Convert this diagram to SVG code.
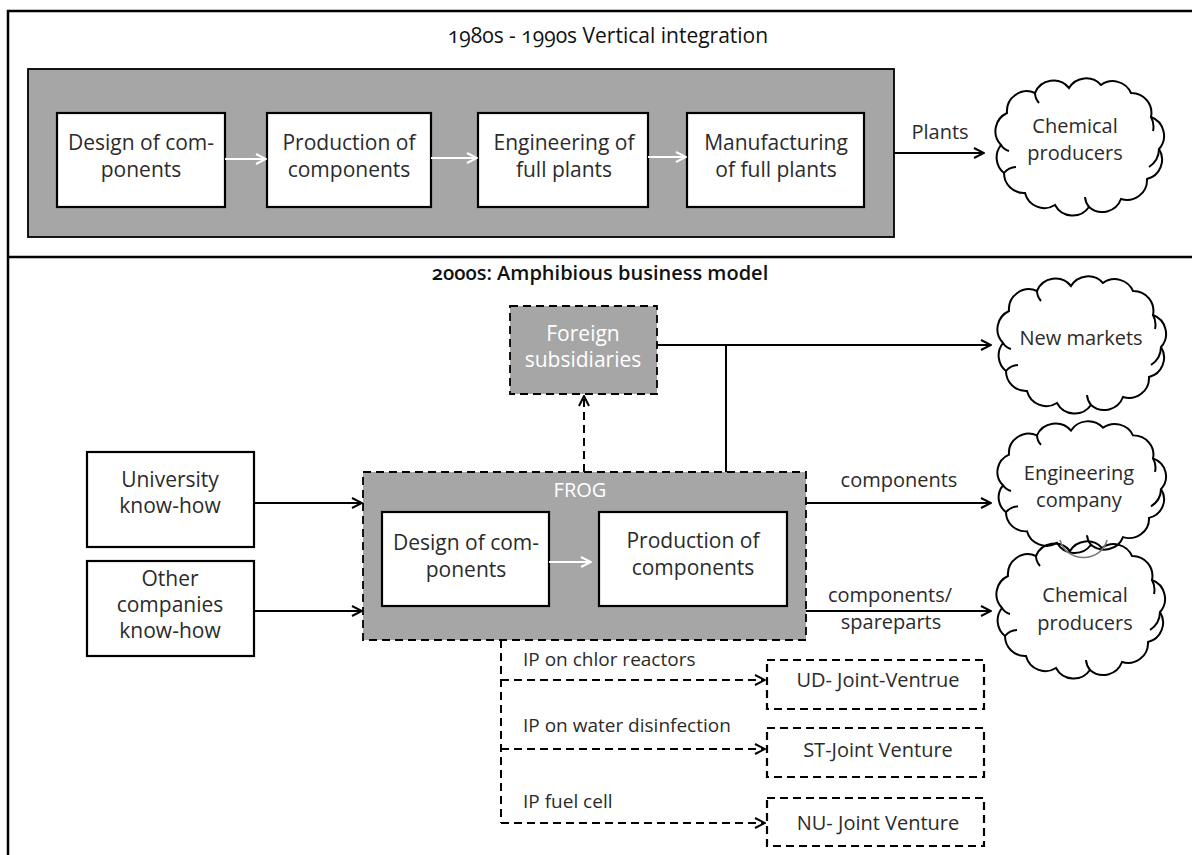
<svg xmlns="http://www.w3.org/2000/svg" width="1192" height="855" viewBox="0 0 1192 855">
<defs>
<marker id="ah" markerUnits="userSpaceOnUse" viewBox="0 0 12 12" refX="11" refY="6" markerWidth="12" markerHeight="12" orient="auto"><path d="M1,1 L11,6 L1,11" fill="none" stroke="#000" stroke-width="2"/></marker>
<marker id="ahw" markerUnits="userSpaceOnUse" viewBox="0 0 12 12" refX="11" refY="6" markerWidth="12" markerHeight="12" orient="auto"><path d="M1,1 L11,6 L1,11" fill="none" stroke="#fff" stroke-width="2"/></marker>
<g id="cloudShape">
<path d="M10,68 A20 20 0 0 1 16,36 A20 20 0 0 1 44,16 A20 20 0 0 1 78,11 A20 20 0 0 1 110,8 A20 20 0 0 1 140,16 A20 20 0 0 1 160,40 A20 20 0 0 1 168,72 A20 20 0 0 1 156,102 A20 20 0 0 1 130,122 A20 20 0 0 1 98,130 A20 20 0 0 1 64,128 A20 20 0 0 1 34,116 A20 20 0 0 1 13,96 A20 20 0 0 1 10,68 Z" fill="none" stroke="#000" stroke-width="2"/>
<path d="M160,40 a20 20 0 0 1 2,14 M168,72 a22 22 0 0 1 -10,18 M13,96 a16 16 0 0 1 12,-6 M98,130 a18 18 0 0 1 -4,-10 M44,16 a16 16 0 0 0 4,10 M10,68 a14 14 0 0 0 8,6" fill="none" stroke="#000" stroke-width="2"/>
</g>
</defs>
<style>
.t{font-family:"Open Sans","Liberation Sans",sans-serif;fill:#2b2b2b;text-anchor:middle}
.b{font-size:21px}
.l{font-size:20px}
.ip{font-size:19px;text-anchor:start}
.title{font-size:21px;fill:#111;font-variant-numeric:oldstyle-nums}
.title2{font-size:20px;font-weight:600;fill:#111;font-variant-numeric:oldstyle-nums}
.box{fill:#fff;stroke:#000;stroke-width:2.2}
.gray{fill:#a6a6a6;stroke:#000;stroke-width:1.8}
.dash{stroke-dasharray:8 5}
.ln{fill:none;stroke:#000;stroke-width:2}
.wl{fill:none;stroke:#fff;stroke-width:2}
.w{fill:#fff}
.frame{fill:none;stroke:#000;stroke-width:2.5}
</style>
<rect width="1192" height="855" fill="#fff"/>

<!-- frames -->
<g id="frames">
<path class="frame" d="M1192,11 H8 V855 M8,257 H1192"/>
<text class="t title" x="608" y="43">1980s - 1990s Vertical integration</text>
<text class="t title2" x="600" y="280">2000s: Amphibious business model</text>
</g>

<!-- top panel -->
<g id="vi-group"><rect class="gray" x="28" y="69" width="866" height="168"/></g>
<g id="vi-design"><rect class="box" x="57" y="113" width="168" height="94"/>
<text class="t b" x="141" y="150">Design of com-</text><text class="t b" x="141" y="177">ponents</text></g>
<g id="vi-production"><rect class="box" x="267" y="113" width="164" height="94"/>
<text class="t b" x="349" y="150">Production of</text><text class="t b" x="349" y="177">components</text></g>
<g id="vi-engineering"><rect class="box" x="478" y="113" width="170" height="94"/>
<text class="t b" x="564" y="150">Engineering of</text><text class="t b" x="564" y="177">full plants</text></g>
<g id="vi-manufacturing"><rect class="box" x="687" y="113" width="177" height="94"/>
<text class="t b" x="776" y="150">Manufacturing</text><text class="t b" x="776" y="177">of full plants</text></g>
<g id="vi-chemical"><use href="#cloudShape" transform="translate(991,77)"/>
<text class="t l" x="1075" y="133">Chemical</text><text class="t l" x="1075" y="160">producers</text></g>

<!-- bottom panel nodes -->
<g id="foreign"><rect class="gray dash" x="510" y="306" width="147" height="88"/>
<text class="t b w" x="583" y="341">Foreign</text><text class="t b w" x="583" y="367">subsidiaries</text></g>
<g id="university"><rect class="box" x="87" y="452" width="167" height="95"/>
<text class="t b" x="170" y="487">University</text><text class="t b" x="170" y="513">know-how</text></g>
<g id="other"><rect class="box" x="87" y="561" width="167" height="95"/>
<text class="t b" x="170" y="586">Other</text><text class="t b" x="170" y="612">companies</text><text class="t b" x="170" y="638">know-how</text></g>
<g id="frog"><rect class="gray dash" x="363" y="472" width="443" height="168"/>
<text class="t l w" x="580" y="497">FROG</text></g>
<g id="frog-design"><rect class="box" x="382" y="512" width="167" height="94"/>
<text class="t b" x="466" y="550">Design of com-</text><text class="t b" x="466" y="577">ponents</text></g>
<g id="frog-production"><rect class="box" x="599" y="512" width="188" height="94"/>
<text class="t b" x="693" y="548">Production of</text><text class="t b" x="693" y="575">components</text></g>
<g id="new-markets"><use href="#cloudShape" transform="translate(993,275)"/>
<text class="t l" x="1081" y="345">New markets</text></g>
<g id="chem2"><use href="#cloudShape" transform="translate(992,540)"/>
<text class="t l" x="1085" y="602">Chemical</text><text class="t l" x="1085" y="630">producers</text></g>
<g id="engineering-co"><use href="#cloudShape" transform="translate(993,420) scale(1,0.96)"/>
<text class="t l" x="1079" y="480">Engineering</text><text class="t l" x="1079" y="507">company</text></g>
<path d="M1060,540 A24 22 0 0 0 1107,540" fill="none" stroke="#777" stroke-width="1.5"/>
<g id="ud"><rect class="box dash" x="767" y="660" width="217" height="49" stroke-width="2"/>
<text class="t l" x="878" y="687">UD- Joint-Ventrue</text></g>
<g id="st"><rect class="box dash" x="767" y="728" width="217" height="49" stroke-width="2"/>
<text class="t l" x="878" y="757">ST-Joint Venture</text></g>
<g id="nu"><rect class="box dash" x="767" y="798" width="217" height="48" stroke-width="2"/>
<text class="t l" x="878" y="830">NU- Joint Venture</text></g>

<!-- connectors -->
<g id="connectors">
<path class="wl" d="M225,159 H266" marker-end="url(#ahw)"/>
<path class="wl" d="M431,158 H477" marker-end="url(#ahw)"/>
<path class="wl" d="M648,157 H686" marker-end="url(#ahw)"/>
<path class="ln" d="M894,153 H984" marker-end="url(#ah)"/>
<text class="t l" x="940" y="139">Plants</text>

<path class="wl" d="M549,562 H591" marker-end="url(#ahw)"/>
<path class="ln" d="M254,503 H362" marker-end="url(#ah)"/>
<path class="ln" d="M254,611 H362" marker-end="url(#ah)"/>
<path class="ln dash" d="M584,472 V396" marker-end="url(#ah)"/>
<path class="ln" d="M657,345 H991" marker-end="url(#ah)"/>
<path class="ln" d="M726,345 V472"/>
<path class="ln" d="M806,503 H991" marker-end="url(#ah)"/>
<text class="t l" x="899" y="487">components</text>
<path class="ln" d="M806,611 H991" marker-end="url(#ah)"/>
<text class="t l" x="890" y="602">components/</text>
<text class="t l" x="891" y="629">spareparts</text>

<path class="ln dash" d="M501,640 V823"/>
<path class="ln dash" d="M501,680 H765" marker-end="url(#ah)"/>
<path class="ln dash" d="M501,749 H765" marker-end="url(#ah)"/>
<path class="ln dash" d="M501,823 H765" marker-end="url(#ah)"/>
<text class="t ip" x="523" y="666">IP on chlor reactors</text>
<text class="t ip" x="523" y="732">IP on water disinfection</text>
<text class="t ip" x="523" y="808">IP fuel cell</text>
</g>
</svg>
